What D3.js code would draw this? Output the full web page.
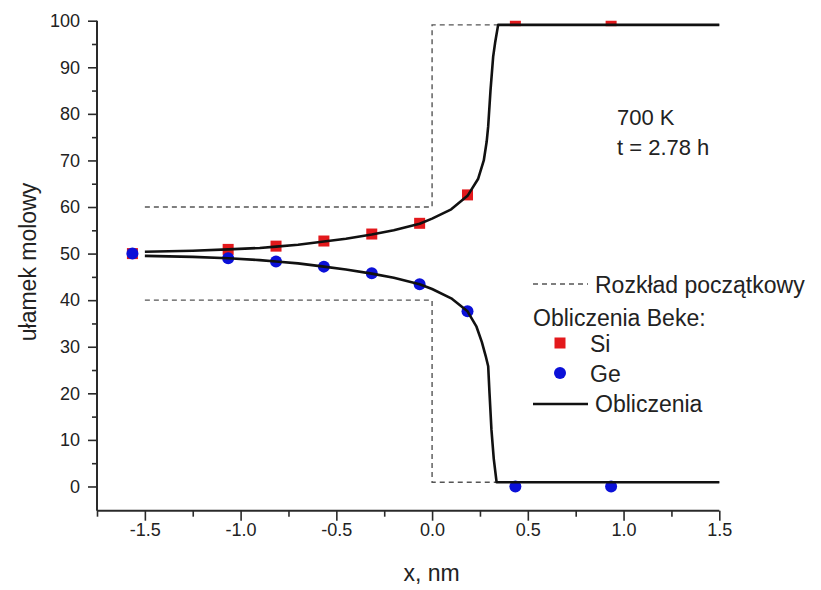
<!DOCTYPE html>
<html>
<head>
<meta charset="utf-8">
<script src="https://cdn.jsdelivr.net/npm/d3@7"></script>
<style>
  html, body { margin: 0; padding: 0; background: #fff; }
  svg { display: block; font-family: "Liberation Sans", Arial, sans-serif; }
</style>
</head>
<body>
<svg id="chart" width="821" height="590"></svg>
<script>
// Mole fraction profiles across the Si/Ge interface (700 K, t = 2.78 h)

// Beke calculation points
const pointX = [-1.565, -1.065, -0.815, -0.565, -0.315, -0.065, 0.185, 0.435, 0.935];
const siValues = [50, 50.9, 51.6, 52.7, 54.2, 56.5, 62.6, 100, 100];
const geValues = [50, 49.0, 48.3, 47.2, 45.8, 43.4, 37.6, 0, 0];

// Calculated curves
const curveX = [-1.5, -1.25, -1.065, -0.9, -0.815, -0.7, -0.565, -0.45, -0.315, -0.2, -0.065,
                0.0, 0.1, 0.185, 0.24, 0.27, 0.285, 0.293, 0.305, 0.319, 0.33, 0.345, 1.5];
const siCurve = [50.4, 50.6, 50.9, 51.2, 51.5, 51.9, 52.6, 53.2, 54.1, 55.0, 56.4,
                 57.5, 59.5, 62.4, 66, 70, 74, 77.3, 85, 92.3, 95.5, 99.1, 99.1];
const geCurveX = [-1.5, -1.25, -1.065, -0.9, -0.815, -0.7, -0.565, -0.45, -0.315, -0.2, -0.065,
                  0.0, 0.1, 0.185, 0.232, 0.26, 0.28, 0.293, 0.30, 0.31, 0.322, 0.337, 1.5];
const geCurve = [49.5, 49.3, 49.0, 48.6, 48.3, 47.9, 47.2, 46.6, 45.7, 44.8, 43.4,
                 42.4, 40.4, 37.6, 34.3, 31, 28, 25.8, 20, 12.2, 6, 0.9, 0.9];

// Initial distribution (step profile)
const initX = [-1.5, 0, 0, 1.5];
const initSi = [60, 60, 99.1, 99.1];
const initGe = [40, 40, 0.9, 0.9];

// Axis ticks
const xTicks = [-1.5, -1.0, -0.5, 0.0, 0.5, 1.0, 1.5];
const xMinorTicks = [-1.75, -1.25, -0.75, -0.25, 0.25, 0.75, 1.25];
const yTicks = [0, 10, 20, 30, 40, 50, 60, 70, 80, 90, 100];
const yMinorTicks = [5, 15, 25, 35, 45, 55, 65, 75, 85, 95];

const svg = d3.select("#chart");
const plotLeft = 97, plotRight = 719.3, plotTop = 20.7, plotBottom = 510.7;

const x = d3.scaleLinear().domain([-1.75, 1.5]).range([plotLeft, plotRight]);
const y = d3.scaleLinear().domain([-5.2, 100]).range([plotBottom, plotTop]);

const axisColor = "#2a2a2a";
const textColor = "#222";
const siColor = "#e3191c";
const geColor = "#0b10d8";

svg.append("defs").append("clipPath").attr("id", "plot-clip")
  .append("rect").attr("x", plotLeft).attr("y", plotTop)
  .attr("width", plotRight - plotLeft + 10).attr("height", plotBottom - plotTop);

const line = d3.line().x(d => x(d[0])).y(d => y(d[1]));
const plot = svg.append("g").attr("clip-path", "url(#plot-clip)");

// initial distribution (dashed)
[initSi, initGe].forEach(vals => {
  plot.append("path")
    .datum(initX.map((v, i) => [v, vals[i]]))
    .attr("d", line)
    .attr("fill", "none")
    .attr("stroke", "#555")
    .attr("stroke-width", 1.4)
    .attr("stroke-dasharray", "5,4");
});

// Si squares
plot.selectAll("rect.si")
  .data(pointX.map((v, i) => [v, siValues[i]]))
  .join("rect")
  .attr("class", "si")
  .attr("x", d => x(d[0]) - 5.5)
  .attr("y", d => y(d[1]) - 5.5)
  .attr("width", 11).attr("height", 11)
  .attr("fill", siColor);

// Ge circles
plot.selectAll("circle.ge")
  .data(pointX.map((v, i) => [v, geValues[i]]))
  .join("circle")
  .attr("class", "ge")
  .attr("cx", d => x(d[0]))
  .attr("cy", d => y(d[1]))
  .attr("r", 6)
  .attr("fill", geColor);

// calculated curves
plot.append("path")
  .datum(curveX.map((v, i) => [v, siCurve[i]]))
  .attr("d", line)
  .attr("fill", "none").attr("stroke", "#111").attr("stroke-width", 2.6)
  .attr("stroke-linejoin", "round");
plot.append("path")
  .datum(geCurveX.map((v, i) => [v, geCurve[i]]))
  .attr("d", line)
  .attr("fill", "none").attr("stroke", "#111").attr("stroke-width", 2.6)
  .attr("stroke-linejoin", "round");

// axes
const xAxis = svg.append("g").attr("transform", `translate(0,${plotBottom})`)
  .call(d3.axisBottom(x).tickValues(xTicks).tickSize(10).tickPadding(3)
    .tickFormat(d => d3.format(".1f")(d).replace("−", "-")));
const xMinor = svg.append("g").attr("transform", `translate(0,${plotBottom})`)
  .call(d3.axisBottom(x).tickValues(xMinorTicks).tickSize(6).tickFormat(""));
const yAxis = svg.append("g").attr("transform", `translate(${plotLeft},0)`)
  .call(d3.axisLeft(y).tickValues(yTicks).tickSize(9).tickPadding(8));
const yMinor = svg.append("g").attr("transform", `translate(${plotLeft},0)`)
  .call(d3.axisLeft(y).tickValues(yMinorTicks).tickSize(5).tickFormat(""));

[xAxis, xMinor, yAxis, yMinor].forEach(g => {
  g.select(".domain").attr("stroke", axisColor).attr("stroke-width", 2);
  g.selectAll(".tick line").attr("stroke", axisColor).attr("stroke-width", 1.6);
  g.selectAll(".tick text").attr("fill", textColor)
    .style("font-size", "18px").style("font-family", "Liberation Sans, Arial, sans-serif");
});
xAxis.select(".domain").attr("d", `M${plotLeft},0H${plotRight}`);
xMinor.select(".domain").remove();
yAxis.select(".domain").attr("d", `M0,${plotTop}V${plotBottom}`);
yMinor.select(".domain").remove();

// axis titles
svg.append("text")
  .attr("x", 431.5).attr("y", 581)
  .attr("text-anchor", "middle")
  .attr("fill", textColor).style("font-size", "23px")
  .text("x, nm");
svg.append("text")
  .attr("transform", "translate(36,262) rotate(-90)")
  .attr("text-anchor", "middle")
  .attr("fill", textColor).style("font-size", "23px")
  .text("ułamek molowy");

// annotation
svg.append("text").attr("x", 617).attr("y", 125)
  .attr("fill", textColor).style("font-size", "22px").text("700 K");
svg.append("text").attr("x", 617).attr("y", 155)
  .attr("fill", textColor).style("font-size", "22px").text("t = 2.78 h");

// legend
const lg = svg.append("g").style("font-size", "23px").attr("fill", textColor);
lg.append("line").attr("x1", 533).attr("x2", 588).attr("y1", 284).attr("y2", 284)
  .attr("stroke", "#555").attr("stroke-width", 1.4).attr("stroke-dasharray", "5,4");
lg.append("text").attr("x", 595).attr("y", 293).text("Rozkład początkowy");
lg.append("text").attr("x", 533).attr("y", 326).text("Obliczenia Beke:");
lg.append("rect").attr("x", 554.5).attr("y", 337.5).attr("width", 11).attr("height", 11)
  .attr("fill", siColor);
lg.append("text").attr("x", 590).attr("y", 352).text("Si");
lg.append("circle").attr("cx", 560).attr("cy", 373).attr("r", 6).attr("fill", geColor);
lg.append("text").attr("x", 590).attr("y", 382).text("Ge");
lg.append("line").attr("x1", 533).attr("x2", 588).attr("y1", 404).attr("y2", 404)
  .attr("stroke", "#111").attr("stroke-width", 2.6);
lg.append("text").attr("x", 595).attr("y", 412).text("Obliczenia");
</script>
</body>
</html>
